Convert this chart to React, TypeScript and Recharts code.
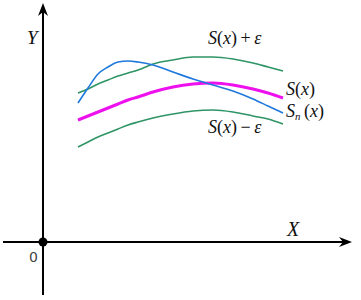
import React from 'react';
import { LineChart, Line, XAxis, YAxis, ReferenceLine, ReferenceDot } from 'recharts';

const xs = [3.5, 4.5, 5.5, 6.5, 7.5, 8.5, 9.5, 11, 13, 15, 17, 19, 21, 22.5, 24];
const upper = [14.9, 15.3, 15.8, 16.2, 16.6, 16.9, 17.2, 17.8, 18.2, 18.5, 18.5, 18.3, 17.9, 17.5, 17.1];
const sn = [13.9, 15.4, 16.8, 17.5, 18.0, 18.1, 18.0, 17.7, 17.0, 16.3, 15.7, 15.1, 14.3, 13.6, 12.9];
const sx = [12.2, 12.6, 13.0, 13.4, 13.8, 14.2, 14.5, 15.0, 15.5, 15.8, 15.9, 15.7, 15.3, 14.9, 14.4];
const lower = [9.5, 10.0, 10.5, 10.9, 11.3, 11.7, 12.0, 12.4, 12.8, 13.1, 13.2, 13.0, 12.6, 12.3, 11.8];

const data = xs.map((x, i) => ({ x, upper: upper[i], sn: sn[i], sx: sx[i], lower: lower[i] }));

const FONT = '"Liberation Serif", "DejaVu Serif", serif';

const Arrow = (props: any) => {
  const { x1, y1, x2, y2 } = props;
  const ang = Math.atan2(y2 - y1, x2 - x1);
  const L = 13, W = 5, N = 9;
  const bx = x2 - L * Math.cos(ang), by = y2 - L * Math.sin(ang);
  const nx = x2 - N * Math.cos(ang), ny = y2 - N * Math.sin(ang);
  const px = -Math.sin(ang) * W, py = Math.cos(ang) * W;
  const pts = `${x2},${y2} ${bx + px},${by + py} ${nx},${ny} ${bx - px},${by - py}`;
  return (
    <g>
      <line x1={x1} y1={y1} x2={nx} y2={ny} stroke="#000" strokeWidth={2} />
      <polygon points={pts} fill="#000" />
    </g>
  );
};

const mathLabel = (parts: { t: string; i?: boolean; sub?: boolean }[], size = 18) => (props: any) => {
  const vb = props.viewBox || {};
  const x = vb.x + (vb.width || 0) / 2;
  const y = vb.y + (vb.height || 0) / 2;
  return (
    <text x={x} y={y} fontFamily={FONT} fontSize={size} fill="#111" textAnchor="start">
      {parts.map((p, k) => (
        <tspan
          key={k}
          fontStyle={p.i ? 'italic' : 'normal'}
          fontSize={p.sub ? size * 0.6 : size}
          dy={p.sub ? 3 : k > 0 && parts[k - 1].sub ? -3 : 0}
        >
          {p.t}
        </tspan>
      ))}
    </text>
  );
};

const labels = [
  { x: 16.5, y: 19.8, size: 18, parts: [{ t: 'S', i: true }, { t: '(' }, { t: 'x', i: true }, { t: ')\u2009+\u2009' }, { t: 'ε', i: true }] },
  { x: 24.3, y: 14.7, size: 18, parts: [{ t: 'S', i: true }, { t: '(' }, { t: 'x', i: true }, { t: ')' }] },
  { x: 24.3, y: 12.5, size: 18, parts: [{ t: 'S', i: true }, { t: 'n', i: true, sub: true }, { t: '\u2009(' }, { t: 'x', i: true }, { t: ')' }] },
  { x: 16.5, y: 10.9, size: 18, parts: [{ t: 'S', i: true }, { t: '(' }, { t: 'x', i: true }, { t: ')\u2009−\u2009' }, { t: 'ε', i: true }] },
  { x: -1.6, y: 19.8, size: 19, parts: [{ t: 'Y', i: true }] },
  { x: 24.4, y: 0.6, size: 20, parts: [{ t: 'X', i: true }] },
];

export default function App() {
  return (
    <div style={{ position: 'absolute', left: 0, top: 0, width: 361, height: 300, background: '#fff' }}>
      <LineChart width={361} height={300} data={data} margin={{ top: 0, right: 0, bottom: 0, left: 0 }}>
        <XAxis hide type="number" dataKey="x" domain={[-4.3, 31.8]} allowDataOverflow />
        <YAxis hide type="number" domain={[-5.8, 24.2]} allowDataOverflow />
        <ReferenceLine segment={[{ x: 0, y: -5.3 }, { x: 0, y: 23.9 }]} shape={Arrow} />
        <ReferenceLine segment={[{ x: -4.0, y: 0 }, { x: 30.9, y: 0 }]} shape={Arrow} />
        <Line type="monotone" dataKey="upper" stroke="#2f9466" strokeWidth={1.6} dot={false} activeDot={false} isAnimationActive={false} />
        <Line type="monotone" dataKey="lower" stroke="#2f9466" strokeWidth={1.6} dot={false} activeDot={false} isAnimationActive={false} />
        <Line type="monotone" dataKey="sx" stroke="#ee11ee" strokeWidth={3} dot={false} activeDot={false} isAnimationActive={false} />
        <Line type="monotone" dataKey="sn" stroke="#1f78dc" strokeWidth={1.6} dot={false} activeDot={false} isAnimationActive={false} />
        <ReferenceDot x={0} y={0} r={4.5} fill="#000" stroke="none" />
        {labels.map((l, i) => (
          <ReferenceDot key={i} x={l.x} y={l.y} r={0} fill="none" stroke="none" label={mathLabel(l.parts, l.size)} />
        ))}
        <ReferenceDot
          x={-1.4}
          y={-2.0}
          r={0}
          fill="none"
          stroke="none"
          label={(props: any) => {
            const vb = props.viewBox || {};
            return (
              <text x={vb.x} y={vb.y} fontFamily='"DejaVu Sans", sans-serif' fontSize={14} fill="#444" textAnchor="start">
                0
              </text>
            );
          }}
        />
      </LineChart>
    </div>
  );
}
